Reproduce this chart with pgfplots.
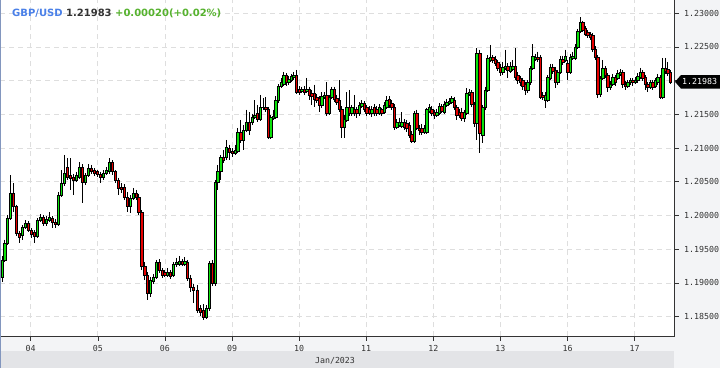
\documentclass[border=0pt]{standalone}
\usepackage{pgfplots}
\pgfplotsset{compat=1.18}
\usepackage{pgfplotstable}
\usepackage{fontspec}
\setmainfont{DejaVu Sans}
\newfontfamily\monof{DejaVu Sans Mono}
\definecolor{cgreen}{RGB}{10,225,10}
\definecolor{cred}{RGB}{230,0,0}
\definecolor{framebg}{RGB}{243,244,246}
\definecolor{stripbg}{RGB}{227,228,231}
\definecolor{gridc}{RGB}{222,222,222}
\definecolor{tblue}{RGB}{74,128,232}
\definecolor{tgreen}{RGB}{86,178,46}
\definecolor{tdark}{RGB}{51,51,51}
\definecolor{edgeblue}{RGB}{130,150,190}

\pgfdeclareplotmark{candle}{%
  \pgfsetstrokecolor{black}%
  \pgfsetlinewidth{0.6pt}%
  \pgfpathmoveto{\pgfpoint{0pt}{\hlen pt}}%
  \pgfpathlineto{\pgfpoint{0pt}{\llen pt}}%
  \pgfusepath{stroke}%
  \ifdim\blen pt>0pt \pgfsetfillcolor{cred}\else\pgfsetfillcolor{cgreen}\fi
  \pgfsetlinewidth{0.45pt}%
  \pgfpathrectangle{\pgfpoint{-1.25pt}{0pt}}{\pgfpoint{2.5pt}{\blen pt}}%
  \pgfusepath{fill,stroke}%
}

\pgfplotstableread{
x o h l c
2 1.1909 1.1940 1.1901 1.1934
4.5 1.1934 1.1964 1.1931 1.1959
7 1.1959 1.2001 1.1956 1.1996
10 1.1996 1.2060 1.1993 1.2033
13 1.2033 1.2048 1.2005 1.2013
16 1.2013 1.2016 1.1969 1.1974
19 1.1974 1.1977 1.1959 1.1968
22 1.1971 1.1986 1.1964 1.1983
25 1.1983 1.1993 1.1980 1.1989
28 1.1989 1.1992 1.1975 1.1978
31 1.1978 1.1981 1.1966 1.1972
34 1.1975 1.1978 1.1959 1.1969
37 1.1969 1.1996 1.1966 1.1993
40 1.1993 1.2002 1.1990 1.1998
43 1.1998 1.2001 1.1984 1.1989
46 1.1989 1.1999 1.1984 1.1995
49 1.1993 1.2005 1.1990 1.1998
52 1.1996 1.1999 1.1981 1.1990
55 1.1990 1.1995 1.1981 1.1987
58 1.1987 1.2035 1.1984 1.2030
61 1.2030 1.2067 1.2027 1.2048
64 1.2048 1.2090 1.2043 1.2063
67 1.2072 1.2085 1.2053 1.2057
70 1.2060 1.2085 1.2038 1.2056
73 1.2057 1.2062 1.2030 1.2053
76 1.2053 1.2065 1.2050 1.2060
79 1.2057 1.2079 1.2054 1.2072
82 1.2072 1.2076 1.2018 1.2050
85 1.2050 1.2063 1.2045 1.2060
88 1.2060 1.2076 1.2057 1.2070
91 1.2070 1.2075 1.2061 1.2065
94 1.2067 1.2070 1.2059 1.2063
97 1.2065 1.2067 1.2057 1.2061
100 1.2061 1.2065 1.2048 1.2057
103 1.2057 1.2067 1.2053 1.2063
106 1.2063 1.2072 1.2060 1.2067
109 1.2065 1.2085 1.2061 1.2079
112 1.2079 1.2082 1.2060 1.2065
115 1.2065 1.2067 1.2048 1.2053
118 1.2053 1.2056 1.2030 1.2041
121 1.2042 1.2048 1.2033 1.2039
124 1.2042 1.2046 1.2023 1.2027
127 1.2027 1.2035 1.2005 1.2013
130 1.2013 1.2030 1.2004 1.2026
133 1.2026 1.2041 1.2023 1.2033
136 1.2033 1.2038 1.2023 1.2027
138.5 1.2027 1.2032 1.2001 1.2005
141.5 1.2005 1.2008 1.1919 1.1924
144.5 1.1924 1.1931 1.1904 1.1912
147 1.1912 1.1916 1.1875 1.1885
150 1.1885 1.1909 1.1879 1.1904
153 1.1903 1.1913 1.1898 1.1909
156 1.1909 1.1934 1.1906 1.1931
159 1.1931 1.1935 1.1915 1.1919
162 1.1919 1.1922 1.1907 1.1912
164.5 1.1916 1.1919 1.1909 1.1912
167 1.1912 1.1922 1.1909 1.1916
170 1.1916 1.1919 1.1906 1.1910
173 1.1912 1.1931 1.1909 1.1928
176 1.1927 1.1937 1.1924 1.1931
179 1.1928 1.1940 1.1925 1.1932
182 1.1932 1.1935 1.1925 1.1928
184.5 1.1928 1.1938 1.1925 1.1932
187 1.1931 1.1934 1.1903 1.1907
190 1.1907 1.1912 1.1886 1.1894
193 1.1894 1.1898 1.1870 1.1889
197 1.1889 1.1897 1.1855 1.1860
200 1.1863 1.1867 1.1851 1.1857
203 1.1860 1.1869 1.1845 1.1849
206 1.1849 1.1867 1.1846 1.1863
209 1.1863 1.1932 1.1858 1.1929
212 1.1929 1.1934 1.1895 1.1900
215 1.1900 1.2053 1.1895 1.2050
217.5 1.2050 1.2075 1.2038 1.2065
220.5 1.2065 1.2090 1.2053 1.2087
223 1.2087 1.2097 1.2078 1.2082
226 1.2087 1.2112 1.2082 1.2102
229 1.2100 1.2105 1.2082 1.2094
232 1.2096 1.2100 1.2087 1.2093
235 1.2093 1.2105 1.2090 1.2097
237.5 1.2096 1.2130 1.2093 1.2124
240.5 1.2124 1.2142 1.2107 1.2112
243 1.2112 1.2134 1.2097 1.2127
246 1.2127 1.2157 1.2124 1.2139
249 1.2139 1.2153 1.2119 1.2127
252 1.2139 1.2151 1.2134 1.2146
254.5 1.2146 1.2171 1.2143 1.2149
257 1.2151 1.2164 1.2139 1.2143
260 1.2143 1.2179 1.2140 1.2161
263 1.2160 1.2174 1.2156 1.2161
265.5 1.2161 1.2176 1.2153 1.2158
268 1.2158 1.2161 1.2113 1.2116
270.5 1.2116 1.2149 1.2113 1.2146
273 1.2145 1.2157 1.2142 1.2148
275.5 1.2146 1.2177 1.2143 1.2171
278 1.2171 1.2195 1.2167 1.2192
281 1.2192 1.2204 1.2189 1.2197
283.5 1.2195 1.2213 1.2192 1.2208
286 1.2208 1.2211 1.2192 1.2197
288.5 1.2197 1.2207 1.2194 1.2202
291 1.2201 1.2210 1.2198 1.2207
293.5 1.2205 1.2213 1.2201 1.2208
296 1.2208 1.2216 1.2180 1.2183
299 1.2188 1.2192 1.2179 1.2183
301.5 1.2185 1.2191 1.2182 1.2188
304 1.2188 1.2192 1.2179 1.2183
306.5 1.2185 1.2204 1.2182 1.2188
309 1.2188 1.2191 1.2171 1.2179
311.5 1.2182 1.2186 1.2164 1.2177
314 1.2182 1.2194 1.2161 1.2173
316.5 1.2176 1.2180 1.2167 1.2171
319 1.2174 1.2177 1.2153 1.2164
321.5 1.2164 1.2183 1.2160 1.2177
324 1.2176 1.2183 1.2173 1.2179
326.5 1.2179 1.2198 1.2148 1.2152
329 1.2152 1.2179 1.2149 1.2176
331.5 1.2176 1.2191 1.2173 1.2188
334 1.2188 1.2191 1.2168 1.2173
336.5 1.2174 1.2179 1.2164 1.2168
339 1.2171 1.2201 1.2153 1.2158
341.5 1.2158 1.2162 1.2115 1.2131
344 1.2131 1.2149 1.2115 1.2143
346.5 1.2142 1.2183 1.2139 1.2160
349 1.2161 1.2186 1.2148 1.2152
351.5 1.2152 1.2164 1.2148 1.2160
354 1.2158 1.2179 1.2148 1.2152
356.5 1.2157 1.2161 1.2145 1.2152
359 1.2152 1.2168 1.2148 1.2164
361.5 1.2162 1.2171 1.2160 1.2167
364 1.2167 1.2170 1.2153 1.2158
366.5 1.2160 1.2164 1.2148 1.2152
369 1.2158 1.2162 1.2149 1.2152
371.5 1.2151 1.2162 1.2146 1.2158
374 1.2161 1.2165 1.2148 1.2152
376.5 1.2158 1.2162 1.2148 1.2152
379 1.2152 1.2165 1.2149 1.2160
381.5 1.2157 1.2160 1.2148 1.2152
384 1.2153 1.2168 1.2151 1.2164
386.5 1.2161 1.2177 1.2158 1.2171
389 1.2173 1.2177 1.2160 1.2164
391.5 1.2167 1.2171 1.2157 1.2161
394 1.2161 1.2165 1.2127 1.2131
396.5 1.2131 1.2143 1.2128 1.2139
399 1.2134 1.2145 1.2131 1.2139
401.5 1.2133 1.2153 1.2130 1.2139
404 1.2139 1.2143 1.2127 1.2131
406.5 1.2137 1.2142 1.2124 1.2130
409 1.2134 1.2139 1.2115 1.2119
411.5 1.2121 1.2125 1.2107 1.2110
414 1.2110 1.2155 1.2107 1.2152
416.5 1.2152 1.2157 1.2127 1.2130
419 1.2130 1.2134 1.2119 1.2127
421.5 1.2130 1.2136 1.2119 1.2124
424 1.2124 1.2134 1.2121 1.2130
426.5 1.2124 1.2160 1.2121 1.2157
429 1.2155 1.2165 1.2152 1.2160
431.5 1.2158 1.2162 1.2148 1.2151
434 1.2153 1.2157 1.2143 1.2149
436.5 1.2149 1.2158 1.2146 1.2153
439 1.2152 1.2167 1.2149 1.2162
441.5 1.2162 1.2165 1.2152 1.2155
444 1.2153 1.2170 1.2151 1.2165
446.5 1.2164 1.2173 1.2161 1.2168
449 1.2167 1.2174 1.2164 1.2170
451.5 1.2168 1.2177 1.2165 1.2174
454 1.2171 1.2176 1.2157 1.2161
456.5 1.2161 1.2164 1.2142 1.2149
459 1.2153 1.2158 1.2145 1.2149
461.5 1.2153 1.2160 1.2140 1.2145
464 1.2145 1.2157 1.2139 1.2153
466.5 1.2152 1.2189 1.2149 1.2182
469 1.2180 1.2188 1.2177 1.2183
471.5 1.2183 1.2186 1.2161 1.2165
474 1.2165 1.2168 1.2131 1.2137
476.5 1.2137 1.2248 1.2112 1.2241
479.5 1.2241 1.2246 1.2093 1.2122
482.5 1.2119 1.2164 1.2107 1.2160
485 1.2160 1.2191 1.2157 1.2186
487.5 1.2186 1.2238 1.2183 1.2234
490 1.2231 1.2253 1.2228 1.2235
492.5 1.2235 1.2238 1.2226 1.2231
495 1.2232 1.2237 1.2222 1.2226
497.5 1.2228 1.2231 1.2214 1.2219
500 1.2220 1.2225 1.2207 1.2213
502.5 1.2213 1.2228 1.2208 1.2220
505 1.2219 1.2246 1.2216 1.2222
507.5 1.2222 1.2226 1.2204 1.2216
510 1.2214 1.2228 1.2211 1.2222
512.5 1.2217 1.2231 1.2214 1.2222
515 1.2222 1.2248 1.2201 1.2205
517.5 1.2208 1.2213 1.2195 1.2201
520 1.2204 1.2207 1.2192 1.2198
522.5 1.2201 1.2204 1.2186 1.2192
525 1.2194 1.2198 1.2179 1.2186
527.5 1.2186 1.2201 1.2182 1.2198
530 1.2198 1.2222 1.2194 1.2219
532.5 1.2219 1.2254 1.2216 1.2237
535 1.2232 1.2240 1.2229 1.2235
537.5 1.2235 1.2243 1.2228 1.2232
540 1.2235 1.2238 1.2173 1.2176
542.5 1.2179 1.2183 1.2171 1.2176
545 1.2171 1.2183 1.2160 1.2179
547.5 1.2171 1.2208 1.2168 1.2205
550 1.2204 1.2225 1.2201 1.2220
552.5 1.2220 1.2225 1.2210 1.2214
555 1.2216 1.2220 1.2189 1.2197
557.5 1.2197 1.2216 1.2194 1.2213
560 1.2213 1.2237 1.2210 1.2232
562.5 1.2232 1.2237 1.2223 1.2228
565 1.2231 1.2246 1.2228 1.2237
567.5 1.2226 1.2231 1.2201 1.2213
570 1.2213 1.2240 1.2210 1.2235
572.5 1.2234 1.2243 1.2231 1.2237
575 1.2234 1.2254 1.2231 1.2250
577.5 1.2250 1.2277 1.2247 1.2274
580 1.2274 1.2294 1.2271 1.2286
582.5 1.2286 1.2289 1.2272 1.2275
585 1.2278 1.2281 1.2266 1.2269
587.5 1.2272 1.2275 1.2263 1.2268
590 1.2269 1.2272 1.2260 1.2265
592.5 1.2268 1.2271 1.2243 1.2247
595 1.2247 1.2251 1.2231 1.2235
597.5 1.2235 1.2238 1.2174 1.2180
600 1.2180 1.2207 1.2176 1.2204
602.5 1.2204 1.2231 1.2201 1.2219
605 1.2219 1.2222 1.2204 1.2208
607.5 1.2208 1.2211 1.2183 1.2191
610 1.2191 1.2200 1.2186 1.2195
612.5 1.2195 1.2210 1.2192 1.2205
615 1.2205 1.2208 1.2192 1.2197
617.5 1.2204 1.2216 1.2201 1.2211
620 1.2210 1.2217 1.2207 1.2213
622.5 1.2213 1.2216 1.2189 1.2194
625 1.2195 1.2200 1.2186 1.2192
627.5 1.2192 1.2201 1.2189 1.2198
630 1.2197 1.2204 1.2194 1.2201
632.5 1.2201 1.2204 1.2192 1.2197
635 1.2198 1.2205 1.2195 1.2201
637.5 1.2200 1.2211 1.2197 1.2207
640 1.2205 1.2219 1.2202 1.2213
642.5 1.2213 1.2216 1.2200 1.2204
645 1.2205 1.2208 1.2186 1.2194
647.5 1.2195 1.2198 1.2183 1.2191
650 1.2191 1.2201 1.2188 1.2198
652.5 1.2198 1.2201 1.2186 1.2191
655 1.2192 1.2204 1.2189 1.2200
657.5 1.2197 1.2210 1.2194 1.2205
660 1.2205 1.2208 1.2173 1.2176
662.5 1.2176 1.2234 1.2173 1.2219
665 1.2219 1.2234 1.2210 1.2214
667.5 1.2217 1.2228 1.2207 1.2211
670 1.2213 1.2216 1.2195 1.21983
}\candles

\begin{document}
\begin{tikzpicture}[x=1pt,y=1pt]
\path[use as bounding box] (0,0) rectangle (720,368);
\fill[framebg] (0,0) rectangle (720,368);
\fill[stripbg] (0,0) rectangle (674,17);
\fill[white] (0,32) rectangle (674,368);
\begin{axis}[
  at={(0pt,32pt)}, anchor=south west,
  scale only axis, width=674pt, height=336pt,
  xmin=0, xmax=674, ymin=1.182118, ymax=1.23197,
  axis line style={draw=none},
  xtick={30.7,97.8,164.9,232.0,299.1,366.2,433.3,500.4,567.5,634.6},
  xticklabels={04,05,06,09,10,11,12,13,16,17},
  ytick={1.185,1.19,1.195,1.2,1.205,1.21,1.215,1.22,1.225,1.23},
  yticklabels={1.18500,1.19000,1.19500,1.20000,1.20500,1.21000,1.21500,{},1.22500,1.23000},
  xtick pos=left, ytick pos=right, yticklabel pos=right,
  tick align=outside, major tick length=4.5pt,
  tick style={tdark, line width=0.6pt},
  grid=major,
  major grid style={gridc, dash pattern=on 5pt off 4pt, line width=0.7pt},
  yticklabel style={anchor=west, inner sep=0pt, xshift=5.5pt, text=tdark, font=\monof\fontsize{8.3}{10}\selectfont},
  xticklabel style={anchor=north, inner sep=0pt, yshift=-4.5pt, text=tdark, font=\monof\fontsize{8.3}{10}\selectfont},
]
\addplot[only marks, mark=candle,
  visualization depends on={6740*(\thisrow{o}-\thisrow{c}) \as \blen},
  visualization depends on={6740*(\thisrow{h}-\thisrow{c}) \as \hlen},
  visualization depends on={6740*(\thisrow{l}-\thisrow{c}) \as \llen},
] table[x=x, y=c] {\candles};
\end{axis}
\draw[tdark, line width=0.7pt] (0,32) -- (674,32) -- (674,368);
\draw[edgeblue, line width=0.8pt] (0.4,0) -- (0.4,368);
\fill[black] (675,286.2) -- (681,293) -- (720,293) -- (720,279.4) -- (681,279.4) -- cycle;
\node[anchor=west, inner sep=0pt, text=white, font=\monof\fontsize{8.3}{10}\selectfont] at (682,286.2) {1.21983};
\node[anchor=center, inner sep=0pt, text=tdark, font=\monof\fontsize{8.3}{10}\selectfont] at (335,7.5) {Jan/2023};
\node[anchor=base west, inner sep=0pt, font=\bfseries\fontsize{10}{12}\selectfont] at (12,351.5) {\textcolor{tblue}{GBP/USD} \textcolor{tdark}{1.21983} \textcolor{tgreen}{+0.00020(+0.02\%)}};
\end{tikzpicture}
\end{document}
